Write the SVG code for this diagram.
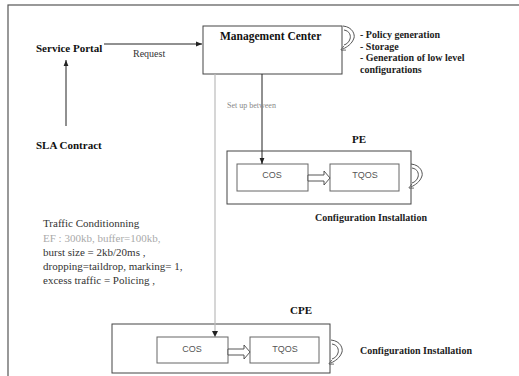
<svg xmlns="http://www.w3.org/2000/svg" width="519" height="376" viewBox="0 0 519 376">
  <style>
    .frame { fill: none; stroke: #555; stroke-width: 1.2; }
    .box { fill: #fff; stroke: #444; stroke-width: 1; }
    .inner { fill: #fff; stroke: #666; stroke-width: 1; }
    .lbl { font-family: "Liberation Serif", "Times New Roman", serif; font-weight: bold; font-size: 11px; fill: #111; }
    .title { font-size: 11.5px; }
    .note { font-family: "Liberation Serif", "Times New Roman", serif; font-weight: bold; font-size: 10px; fill: #222; }
    .plain { font-family: "Liberation Serif", "Times New Roman", serif; font-size: 11px; fill: #333; }
    .small { font-family: "Liberation Serif", "Times New Roman", serif; font-size: 10px; fill: #333; }
    .faint { font-family: "Liberation Serif", "Times New Roman", serif; font-size: 11px; fill: #aaa; }
    .tiny { font-family: "Liberation Serif", "Times New Roman", serif; font-size: 8px; fill: #888; }
    .cell { font-family: "Liberation Sans", Arial, sans-serif; font-size: 9px; fill: #555; text-anchor: middle; }
    .wire { fill: none; stroke: #222; stroke-width: 1; }
    .wire-light { fill: none; stroke: #bbb; stroke-width: 1.2; }
    .hollow { fill: #fff; stroke: #444; stroke-width: 0.9; }
    .loop { fill: none; stroke: #555; stroke-width: 1; }
  </style>
  <defs>
    <marker id="head" viewBox="0 0 10 10" refX="10" refY="5" markerWidth="6" markerHeight="6" orient="auto-start-reverse" markerUnits="userSpaceOnUse">
      <path d="M0,1 L10,5 L0,9 Z" fill="#222"/>
    </marker>
    <marker id="loophead" viewBox="0 0 10 10" refX="5" refY="5" markerWidth="5" markerHeight="5" orient="auto" markerUnits="userSpaceOnUse">
      <path d="M0,0 L10,5 L0,10" fill="none" stroke="#555" stroke-width="1.5"/>
    </marker>
    <!-- self-loop symbol drawn at the right side of a box -->
    <g id="curl">
      <path class="loop" d="M0,0 C10,1 12,9 11,12 C9,18 4,21 0,23" marker-end="url(#loophead)"/>
      <path class="loop" d="M1,4 C7,5 8,10 7,13 C6,16 4,18 1,19"/>
    </g>
  </defs>

  <!-- page frame -->
  <rect class="frame" x="8" y="5" width="530" height="390"/>

  <g id="service-portal">
    <text class="lbl" x="36" y="52">Service Portal</text>
  </g>

  <g id="sla-contract">
    <text class="lbl" x="36" y="149">SLA Contract</text>
  </g>

  <g id="management-center">
    <rect class="box" x="203" y="26" width="139" height="48"/>
    <text class="lbl title" x="220" y="40">Management Center</text>
    <use href="#curl" x="343" y="26"/>
    <text class="note" x="360" y="38">- Policy generation</text>
    <text class="note" x="360" y="50">- Storage</text>
    <text class="note" x="360" y="61">- Generation of low level</text>
    <text class="note" x="360" y="73">configurations</text>
  </g>

  <g id="pe">
    <text class="lbl" x="352" y="143">PE</text>
    <rect class="box" x="227" y="151" width="184" height="53"/>
    <rect class="inner" x="237" y="164" width="71" height="27"/>
    <text class="cell" x="272" y="178">COS</text>
    <rect class="inner" x="330" y="164" width="69" height="27"/>
    <text class="cell" x="365" y="178">TQOS</text>
    <use href="#curl" x="411" y="164"/>
    <text class="note" x="315" y="221">Configuration Installation</text>
  </g>

  <g id="traffic-conditioning">
    <text class="plain" x="43" y="227">Traffic Conditionning</text>
    <text class="faint" x="43" y="242">EF : 300kb, buffer=100kb,</text>
    <text class="plain" x="43" y="256">burst size = 2kb/20ms ,</text>
    <text class="plain" x="43" y="270">dropping=taildrop, marking= 1,</text>
    <text class="plain" x="43" y="284">excess traffic = Policing ,</text>
  </g>

  <g id="cpe">
    <text class="lbl" x="290" y="314">CPE</text>
    <rect class="box" x="112" y="324" width="218" height="49"/>
    <rect class="inner" x="157" y="337" width="71" height="26"/>
    <text class="cell" x="192" y="352">COS</text>
    <rect class="inner" x="250" y="337" width="69" height="26"/>
    <text class="cell" x="285" y="352">TQOS</text>
    <use href="#curl" x="331" y="340"/>
    <text class="note" x="360" y="354">Configuration Installation</text>
  </g>

  <g id="connectors">
    <!-- Service Portal -> Management Center -->
    <line class="wire" x1="104" y1="44" x2="202" y2="44" marker-end="url(#head)"/>
    <text class="small" x="133" y="57">Request</text>
    <!-- SLA Contract -> Service Portal -->
    <line class="wire" x1="66" y1="126" x2="66" y2="60" marker-end="url(#head)"/>
    <!-- Management Center -> PE COS -->
    <line class="wire" x1="262" y1="74" x2="262" y2="164" marker-end="url(#head)"/>
    <text class="tiny" x="227" y="108">Set up between</text>
    <!-- Management Center -> CPE COS -->
    <line class="wire-light" x1="215" y1="74" x2="215" y2="331"/>
    <path d="M212,331 L218,331 L215,337 Z" fill="#222"/>
    <!-- COS => TQOS (PE) -->
    <path class="hollow" d="M308,175 L324,175 L324,171 L330,178 L324,185 L324,181 L308,181 Z"/>
    <!-- COS => TQOS (CPE) -->
    <path class="hollow" d="M228,349 L244,349 L244,345 L250,352 L244,359 L244,355 L228,355 Z"/>
  </g>
</svg>
